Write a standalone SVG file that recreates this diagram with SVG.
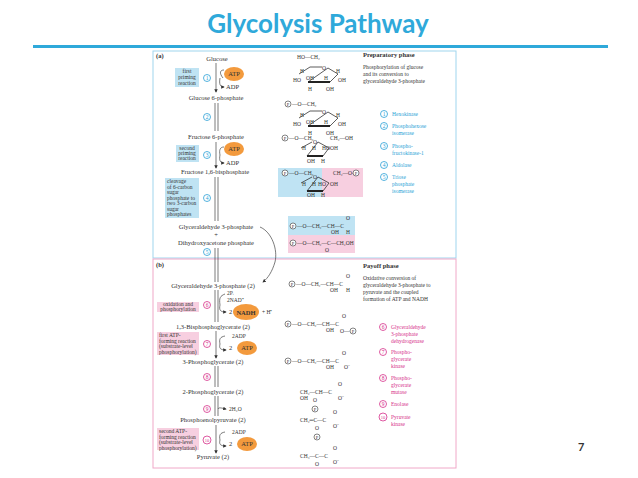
<svg xmlns="http://www.w3.org/2000/svg" width="638" height="478" viewBox="0 0 638 478">
<defs>
<style>
.t{font-family:"Liberation Serif",serif;font-size:6.5px;fill:#333}
.c{font-family:"Liberation Serif",serif;font-size:5.5px;fill:#333}
.m{text-anchor:middle}
.b{font-weight:bold}
.bl{fill:#2a9fd6}
.pk{fill:#d6308a}
.ln{stroke:#444;stroke-width:0.7;fill:none}
.ring{stroke:#333;stroke-width:0.8;fill:none}
.oval{fill:#f39a3d}
.cb{fill:none;stroke:#2a9fd6;stroke-width:0.8}
.cp{fill:none;stroke:#d6308a;stroke-width:0.8}
.bx{fill:#bfe3f3}
.px{fill:#f7cfe0}
</style>
<marker id="ah" markerWidth="5" markerHeight="5" refX="4" refY="2.5" orient="auto"><path d="M0,0L5,2.5L0,5z" fill="#333"/></marker>
<symbol id="pyr" overflow="visible"><path class="ring" d="M0,7L11,0L23,0M29,1L39,7L31,15L9,15Z"/><path d="M9,15L31,15" stroke="#222" stroke-width="2"/><text class="c" x="23" y="3">O</text></symbol>
<symbol id="fur" overflow="visible"><path class="ring" d="M4,7L15,1M21,1L32,7L26,15L10,15Z"/><path d="M10,15L26,15" stroke="#222" stroke-width="2"/><text class="c" x="16" y="3">O</text></symbol>
<symbol id="P" overflow="visible"><circle r="3" fill="#fff" stroke="#333" stroke-width="0.6"/><text class="c m" y="2" style="font-size:4.5px">P</text></symbol>
</defs>
<rect width="638" height="478" fill="#fff"/>
<g id="title"><text x="318" y="33" text-anchor="middle" font-family="Lato,'Open Sans',sans-serif" font-weight="bold" font-size="26" fill="#2fa9da">Glycolysis Pathway</text>
<rect x="33" y="45" width="575" height="3" fill="#2fa9da"/></g>
<g id="panels">
<rect x="153" y="51" width="303" height="207" fill="#fff" stroke="#9fd5ee" stroke-width="1"/>
<rect x="153" y="259" width="303" height="209" fill="#fff" stroke="#f0a8c8" stroke-width="1"/>
<text class="t b" x="156" y="58">(a)</text><text class="t b" x="156" y="267">(b)</text>
<rect x="278" y="168" width="44" height="29" class="bx"/><rect x="322" y="168" width="41" height="29" class="px"/>
<rect x="288" y="216" width="67" height="19" class="bx"/><rect x="288" y="235" width="67" height="18" class="px"/>
</g>
<g id="connectors">
<path class="ln" d="M216,63V92" marker-end="url(#ah)"/>
<path class="ln" d="M223,78C219,73 220,70 224,70M220,78C219,84 220,87 224,87" marker-end="url(#ah)"/>
<path class="ln" d="M215,103V131M218,103V131"/>
<path class="ln" d="M216,142V168" marker-end="url(#ah)"/>
<path class="ln" d="M220,155C219,150 220,147 224,147M220,155C219,160 220,163 224,163" marker-end="url(#ah)"/>
<path class="ln" d="M215,177V221M218,177V221"/>
<path class="ln" d="M215,248V282M218,248V282"/>
<path class="ln" d="M260,227C272,232 278,250 275,262C272,272 268,278 263,282" marker-end="url(#ah)"/>
<path class="ln" d="M215,290V322M218,290V322"/>
<path class="ln" d="M220,305C219,298 220,296 225,294M220,305C219,310 220,312 226,312" marker-end="url(#ah)"/>
<path class="ln" d="M216,331V358" marker-end="url(#ah)"/>
<path class="ln" d="M220,344C219,339 220,337 225,336M220,344C219,348 220,350 226,350" marker-end="url(#ah)"/>
<path class="ln" d="M215,366V387M218,366V387"/>
<path class="ln" d="M215,396V416M218,396V416"/>
<path class="ln" d="M218,409C219,407 221,408 226,409" marker-end="url(#ah)"/>
<path class="ln" d="M216,425V453" marker-end="url(#ah)"/>
<path class="ln" d="M220,440C219,435 220,433 225,432M220,440C219,444 220,446 226,446" marker-end="url(#ah)"/>
</g>
<g id="step1"><text class="t m" x="217" y="61">Glucose</text>
<rect x="175" y="68" width="24" height="19" class="bx"/><text class="c m" x="187" y="73">first</text><text class="c m" x="187" y="79">priming</text><text class="c m" x="187" y="85">reaction</text>
<circle cx="207" cy="78" r="3.5" class="cb" fill="#fff"/><text class="c m bl" x="207" y="80">1</text>
<ellipse cx="234" cy="74" rx="10" ry="7" class="oval"/><text class="t m" x="234" y="76">ATP</text><text class="t" x="226" y="89">ADP</text>
<text class="t m" x="216" y="100">Glucose 6-phosphate</text></g>
<g id="step2"><circle cx="207" cy="117" r="3.5" class="cb" fill="#fff"/><text class="c m bl" x="207" y="119">2</text>
<text class="t m" x="216" y="139">Fructose 6-phosphate</text></g>
<g id="step3"><rect x="176" y="145" width="23" height="17" class="bx"/><text class="c m" x="187" y="150">second</text><text class="c m" x="187" y="155">priming</text><text class="c m" x="187" y="160">reaction</text>
<circle cx="207" cy="155" r="3.5" class="cb" fill="#fff"/><text class="c m bl" x="207" y="157">3</text>
<ellipse cx="234" cy="149" rx="10" ry="7" class="oval"/><text class="t m" x="234" y="151">ATP</text><text class="t" x="226" y="165">ADP</text>
<text class="t m" x="215" y="174">Fructose 1,6-bisphosphate</text></g>
<g id="step4"><rect x="165" y="178" width="34" height="40" class="bx"/>
<text class="c" x="167" y="183">cleavage</text><text class="c" x="167" y="188.5">of 6-carbon</text><text class="c" x="167" y="194">sugar</text><text class="c" x="167" y="199.5">phosphate to</text><text class="c" x="167" y="205">two 3-carbon</text><text class="c" x="167" y="210.5">sugar</text><text class="c" x="167" y="216">phosphates</text>
<circle cx="207" cy="198" r="3.5" class="cb" fill="#fff"/><text class="c m bl" x="207" y="200">4</text>
<text class="t m" x="216" y="229">Glyceraldehyde 3-phosphate</text><text class="t m" x="216" y="237">+</text><text class="t m" x="216" y="245">Dihydroxyacetone phosphate</text></g>
<g id="step5"><circle cx="207" cy="252" r="3.5" class="cb" fill="#fff"/><text class="c m bl" x="207" y="254">5</text></g>
<g id="step6"><text class="t m" x="213" y="288">Glyceraldehyde 3-phosphate (2)</text>
<text class="c" x="227" y="295">2Pᵢ</text><text class="c" x="227" y="302">2NAD⁺</text>
<rect x="157" y="302" width="42" height="10" class="px"/><text class="c m" x="178" y="306">oxidation and</text><text class="c m" x="178" y="311">phosphorylation</text>
<circle cx="207" cy="305" r="3.5" class="cp" fill="#fff"/><text class="c m pk" x="207" y="307">6</text>
<text class="t" x="229" y="314">2</text><ellipse cx="246" cy="312" rx="13" ry="8" class="oval"/><text class="t m b" x="246" y="314.5">NADH</text><text class="c" x="262" y="314">+ H⁺</text>
<text class="t m" x="213" y="329">1,3-Bisphosphoglycerate (2)</text></g>
<g id="step7"><rect x="157" y="332" width="42" height="23" class="px"/><text class="c" x="159" y="337">first ATP-</text><text class="c" x="159" y="342.5">forming reaction</text><text class="c" x="159" y="348">(substrate-level</text><text class="c" x="159" y="353.5">phosphorylation)</text>
<circle cx="207" cy="344" r="3.5" class="cp" fill="#fff"/><text class="c m pk" x="207" y="346">7</text>
<text class="c" x="232" y="338">2ADP</text><text class="t" x="229" y="350">2</text><ellipse cx="247" cy="348" rx="10" ry="7" class="oval"/><text class="t m" x="247" y="350">ATP</text>
<text class="t m" x="213" y="364">3-Phosphoglycerate (2)</text></g>
<g id="step8"><circle cx="207" cy="377" r="3.5" class="cp" fill="#fff"/><text class="c m pk" x="207" y="379">8</text>
<text class="t m" x="213" y="394">2-Phosphoglycerate (2)</text></g>
<g id="step9"><circle cx="207" cy="409" r="3.5" class="cp" fill="#fff"/><text class="c m pk" x="207" y="411">9</text>
<text class="c" x="229" y="411">2H₂O</text>
<text class="t m" x="213" y="422">Phosphoenolpyruvate (2)</text></g>
<g id="step10"><rect x="157" y="428" width="42" height="22" class="px"/><text class="c" x="159" y="433">second ATP-</text><text class="c" x="159" y="438.5">forming reaction</text><text class="c" x="159" y="444">(substrate-level</text><text class="c" x="159" y="449.5">phosphorylation)</text>
<circle cx="207" cy="440" r="4" class="cp" fill="#fff"/><text class="c m pk" x="207" y="442" style="font-size:4.5px">10</text>
<text class="c" x="232" y="434">2ADP</text><text class="t" x="229" y="446">2</text><ellipse cx="247" cy="444" rx="10" ry="7" class="oval"/><text class="t m" x="247" y="446">ATP</text>
<text class="t m" x="213" y="459">Pyruvate (2)</text></g>
<g id="structures-a">
<text class="c" x="297" y="59">HO—CH₂</text>
<use href="#pyr" x="299" y="67"/><text class="c" x="300" y="73">H</text><text class="c" x="336" y="73">H</text><text class="c" x="293" y="82">HO</text><text class="c" x="306" y="80">OH</text><text class="c" x="324" y="80">H</text><text class="c" x="338" y="82">OH</text><text class="c" x="308" y="91">H</text><text class="c" x="326" y="91">OH</text>
<use href="#P" x="288" y="104"/><text class="c" x="292" y="106">—O—CH₂</text>
<use href="#pyr" x="299" y="111"/><text class="c" x="300" y="117">H</text><text class="c" x="336" y="117">H</text><text class="c" x="293" y="126">HO</text><text class="c" x="306" y="124">OH</text><text class="c" x="324" y="124">H</text><text class="c" x="338" y="126">OH</text><text class="c" x="308" y="135">H</text><text class="c" x="326" y="135">OH</text>
<use href="#P" x="285" y="138"/><text class="c" x="289" y="140">—O—CH₂</text><text class="c" x="330" y="140">CH₂—OH</text>
<use href="#fur" x="297" y="141"/><text class="c" x="302" y="150">H</text><text class="c" x="312" y="150">H</text><text class="c" x="322" y="150">HO</text><text class="c" x="330" y="150">OH</text><text class="c" x="307" y="163">OH</text><text class="c" x="321" y="163">H</text>
<use href="#P" x="285" y="173"/><text class="c" x="289" y="175">—O—CH₂</text><text class="c" x="333" y="175">CH₂—O—</text><use href="#P" x="356" y="173"/>
<use href="#fur" x="297" y="176"/><text class="c" x="302" y="186">H</text><text class="c" x="312" y="186">H</text><text class="c" x="318" y="186">HO</text><text class="c" x="330" y="186">OH</text><text class="c" x="307" y="197">OH</text><text class="c" x="321" y="197">H</text>
<use href="#P" x="293" y="226"/><text class="c" x="297" y="228">—O—CH₂—CH—C</text><text class="c" x="331" y="234">OH</text><text class="c" x="346" y="220">O</text><text class="c" x="346" y="234">H</text>
<use href="#P" x="293" y="243"/><text class="c" x="297" y="245">—O—CH₂—C—CH₂OH</text><text class="c" x="325" y="252">O</text>
</g>
<g id="structures-b">
<use href="#P" x="292" y="284"/><text class="c" x="296" y="286">—O—CH₂—CH—C</text><text class="c" x="330" y="292">OH</text><text class="c" x="346" y="278">O</text><text class="c" x="346" y="292">H</text>
<use href="#P" x="288" y="324"/><text class="c" x="292" y="326">—O—CH₂—CH—C</text><text class="c" x="326" y="332">OH</text><text class="c" x="342" y="318">O</text><text class="c" x="340" y="333">O—</text><use href="#P" x="353" y="331"/>
<use href="#P" x="288" y="361"/><text class="c" x="292" y="363">—O—CH₂—CH—C</text><text class="c" x="326" y="369">OH</text><text class="c" x="342" y="355">O</text><text class="c" x="344" y="369">O⁻</text>
<text class="c" x="300" y="394">CH₂—CH—C</text><text class="c" x="300" y="400">OH</text><text class="c" x="313" y="402">O</text><use href="#P" x="315" y="409"/><text class="c" x="338" y="386">O</text><text class="c" x="338" y="400">O⁻</text>
<text class="c" x="300" y="422">CH₂═C—C</text><text class="c" x="315" y="430">O</text><use href="#P" x="317" y="437"/><text class="c" x="333" y="414">O</text><text class="c" x="333" y="428">O⁻</text>
<text class="c" x="300" y="458">CH₃—C—C</text><text class="c" x="315" y="466">O</text><text class="c" x="333" y="450">O</text><text class="c" x="333" y="464">O⁻</text>
</g>
<g id="legend-a"><text class="t b" x="363" y="57">Preparatory phase</text>
<text class="c" x="363" y="69">Phosphorylation of glucose</text><text class="c" x="363" y="76">and its conversion to</text><text class="c" x="363" y="83">glyceraldehyde 3-phosphate</text>
<circle cx="384" cy="114" r="3.5" class="cb"/><text class="c m bl" x="384" y="116">1</text><text class="c bl" x="392" y="116">Hexokinase</text>
<circle cx="384" cy="126" r="3.5" class="cb"/><text class="c m bl" x="384" y="128">2</text><text class="c bl" x="392" y="128">Phosphohexose</text><text class="c bl" x="392" y="135">isomerase</text>
<circle cx="384" cy="146" r="3.5" class="cb"/><text class="c m bl" x="384" y="148">3</text><text class="c bl" x="392" y="148">Phospho-</text><text class="c bl" x="392" y="155">fructokinase-1</text>
<circle cx="384" cy="165" r="3.5" class="cb"/><text class="c m bl" x="384" y="167">4</text><text class="c bl" x="392" y="167">Aldolase</text>
<circle cx="384" cy="177" r="3.5" class="cb"/><text class="c m bl" x="384" y="179">5</text><text class="c bl" x="392" y="179">Triose</text><text class="c bl" x="392" y="186">phosphate</text><text class="c bl" x="392" y="193">isomerase</text></g>
<g id="legend-b"><text class="t b" x="363" y="268">Payoff phase</text>
<text class="c" x="363" y="280">Oxidative conversion of</text><text class="c" x="363" y="287">glyceraldehyde 3-phosphate to</text><text class="c" x="363" y="294">pyruvate and the coupled</text><text class="c" x="363" y="301">formation of ATP and NADH</text>
<circle cx="383" cy="327" r="3.5" class="cp"/><text class="c m pk" x="383" y="329">6</text><text class="c pk" x="391" y="329">Glyceraldehyde</text><text class="c pk" x="391" y="336">3-phosphate</text><text class="c pk" x="391" y="343">dehydrogenase</text>
<circle cx="383" cy="352" r="3.5" class="cp"/><text class="c m pk" x="383" y="354">7</text><text class="c pk" x="391" y="354">Phospho-</text><text class="c pk" x="391" y="361">glycerate</text><text class="c pk" x="391" y="368">kinase</text>
<circle cx="383" cy="378" r="3.5" class="cp"/><text class="c m pk" x="383" y="380">8</text><text class="c pk" x="391" y="380">Phospho-</text><text class="c pk" x="391" y="387">glycerate</text><text class="c pk" x="391" y="394">mutase</text>
<circle cx="383" cy="404" r="3.5" class="cp"/><text class="c m pk" x="383" y="406">9</text><text class="c pk" x="391" y="406">Enolase</text>
<circle cx="383" cy="417" r="4" class="cp"/><text class="c m pk" x="383" y="419" style="font-size:4.5px">10</text><text class="c pk" x="391" y="419">Pyruvate</text><text class="c pk" x="391" y="426">kinase</text></g>
<text x="578" y="451" font-family="Lato,sans-serif" font-weight="bold" font-size="11" fill="#333">7</text>
</svg>
